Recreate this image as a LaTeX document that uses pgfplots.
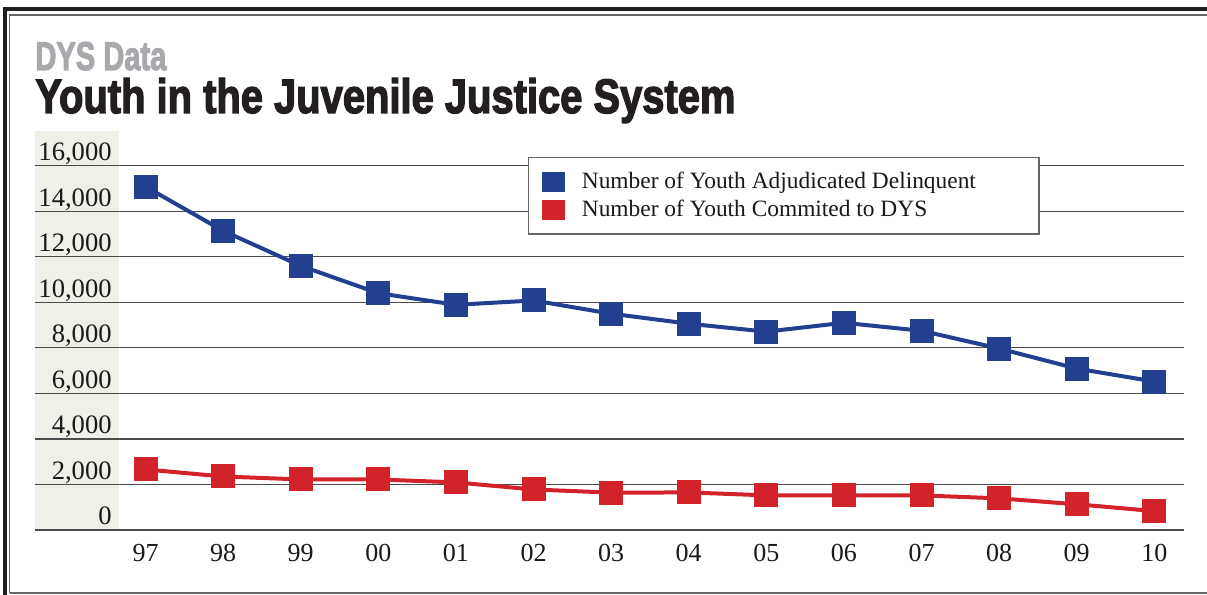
\documentclass[border=0pt]{standalone}
\usepackage{fontspec}
\usepackage{pgfplots}
\pgfplotsset{compat=1.18}
\setmainfont{Liberation Serif}
\newfontfamily\headfont{Liberation Sans}[BoldFeatures={FakeBold=3}]
\definecolor{dysblue}{RGB}{35,63,143}
\definecolor{dysred}{RGB}{210,35,42}
\definecolor{dysgray}{RGB}{167,169,172}
\definecolor{titleblack}{RGB}{35,31,32}
\definecolor{band}{RGB}{241,240,232}
\begin{document}
\begin{tikzpicture}[x=0.5bp,y=0.5bp]
\useasboundingbox (0,0) rectangle (1207,595);
% frame
\draw[line width=0.75bp, black!60] (9.5,2) -- (9.5,580) -- (1215,580);
\draw[line width=0.75bp, black!60] (9.5,2) -- (1215,2);
\draw[line width=2bp, black!88] (5,-5) -- (5,585.5) -- (1215,585.5);
% left band behind tick labels
\fill[band] (35,65) rectangle (119,464);
% titles
\node[anchor=base west, inner sep=0pt, text=dysgray] at (35,525)
  {\resizebox{65.5bp}{14bp}{\headfont\bfseries DYS Data}};
\node[anchor=base west, inner sep=0pt, text=titleblack] at (35,482)
  {\resizebox{350bp}{17.5bp}{\headfont\bfseries Youth in the Juvenile Justice System}};
\begin{axis}[
  at={(17.5bp,32.5bp)}, anchor=south west,
  scale only axis, width=574.5bp, height=200bp,
  xmin=-1.424, xmax=13.383, ymin=0, ymax=17568,
  axis line style={draw=none},
  clip=false,
  xtick={0,...,13},
  xticklabels={97,98,99,00,01,02,03,04,05,06,07,08,09,10},
  ytick={0,2000,...,16000},
  major tick length=0pt,
  ymajorgrids,
  grid style={line width=0.65bp, black!70},
  scaled y ticks=false,
  yticklabel style={anchor=base east, inner sep=0pt, xshift=38.5bp, yshift=2.5bp,
    font=\fontsize{13.3bp}{15bp}\selectfont, text=black!90},
  xticklabel style={anchor=base, inner sep=0pt, yshift=-16bp,
    font=\fontsize{13bp}{15bp}\selectfont, text=black!90},
  legend style={at={(0.4293,0.9333)}, anchor=north west,
    draw=black!60, line width=0.6bp, fill=white,
    inner xsep=6.5bp, inner ysep=7.2bp, row sep=4bp,
    nodes={inner sep=0pt, anchor=base west},
    font=\fontsize{11.7bp}{14bp}\selectfont, text=black!90},
  legend cell align=left,
  legend image code/.code={\fill[#1] (0,-0.5bp) rectangle (9.5bp,7.5bp); \path (0,0) (18bp,0);},
  /pgf/number format/1000 sep={,},
  /pgf/number format/assume math mode=true,
]
\addplot[color=dysblue, line width=2bp, mark=square*, mark size=5bp,
  mark options={solid, fill=dysblue}]
  coordinates {(0,15080) (1,13140) (2,11600) (3,10400) (4,9890) (5,10080) (6,9500)
    (7,9060) (8,8710) (9,9100) (10,8750) (11,7970) (12,7090) (13,6520)};
\addlegendentry{Number of Youth Adjudicated Delinquent\hspace*{25bp}}
\addplot[color=dysred, line width=2bp, mark=square*, mark size=5bp,
  mark options={solid, fill=dysred}]
  coordinates {(0,2660) (1,2350) (2,2220) (3,2220) (4,2090) (5,1780) (6,1640)
    (7,1650) (8,1520) (9,1520) (10,1520) (11,1390) (12,1130) (13,830)};
\addlegendentry{Number of Youth Commited to DYS}
\end{axis}
\end{tikzpicture}
\end{document}
